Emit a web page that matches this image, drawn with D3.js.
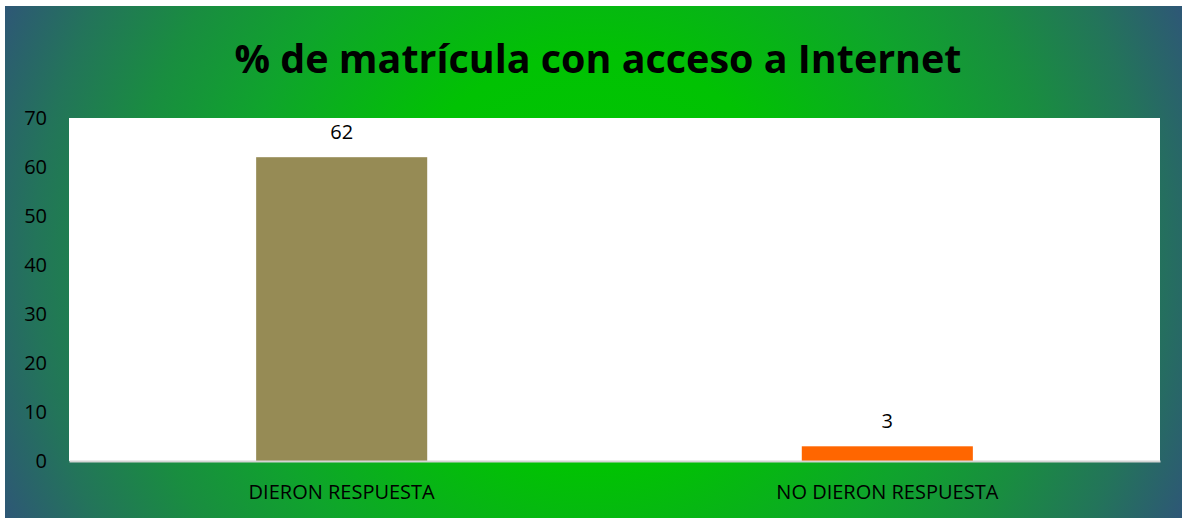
<!DOCTYPE html>
<html>
<head>
<meta charset="utf-8">
<script src="https://cdn.jsdelivr.net/npm/d3@7"></script>
<style>
    body { margin: 0; background: #ffffff; }
    svg { display: block; }
</style>
</head>
<body>
<div id="chart"></div>
<script>
var categories = ['DIERON RESPUESTA', 'NO DIERON RESPUESTA'];
var values = [62, 3];
var barColors = ['#968b55', '#ff6600'];
var yTicks = [0, 10, 20, 30, 40, 50, 60, 70];
var titleText = '% de matrícula con acceso a Internet';

var totalWidth = 1182;
var totalHeight = 518;
var margin = { top: 118, right: 22, bottom: 57, left: 69 };
var width = totalWidth - margin.left - margin.right;
var height = totalHeight - margin.top - margin.bottom;

var svg = d3.select('#chart').append('svg')
    .attr('width', totalWidth)
    .attr('height', totalHeight);

// radial green -> blue background
var grad = svg.append('defs').append('radialGradient')
    .attr('id', 'bg')
    .attr('gradientUnits', 'userSpaceOnUse')
    .attr('cx', 593).attr('cy', 262).attr('r', 650);
[[0, '#00c800'], [0.32, '#01c203'], [0.56, '#0fa42c'], [0.72, '#198d40'], [0.86, '#23745a'], [1, '#2f5479']]
    .forEach(function(s) {
        grad.append('stop').attr('offset', s[0]).attr('stop-color', s[1]);
    });

svg.append('rect')
    .attr('x', 5).attr('y', 6)
    .attr('width', totalWidth - 5).attr('height', totalHeight - 6)
    .attr('fill', 'url(#bg)');

svg.append('text')
    .attr('x', 598)
    .attr('y', 73)
    .attr('text-anchor', 'middle')
    .attr('font-family', 'Open Sans, sans-serif')
    .attr('font-weight', 'bold')
    .attr('font-size', 40)
    .attr('textLength', 727)
    .attr('lengthAdjust', 'spacingAndGlyphs')
    .attr('fill', '#000')
    .text(titleText);

var g = svg.append('g')
    .attr('transform', 'translate(' + margin.left + ',' + margin.top + ')');

// white plot area
g.append('rect')
    .attr('width', width)
    .attr('height', height)
    .attr('fill', '#ffffff');

var yScale = d3.scaleLinear().domain([0, 70]).range([height, 0]);
var xScale = d3.scaleBand().domain(categories).range([0, width])
    .paddingInner(0.6865).paddingOuter(0.343);

var yAxis = d3.axisLeft(yScale).tickValues(yTicks).tickSize(0).tickPadding(22);
var yAxisGroup = g.append('g').call(yAxis);
yAxisGroup.select('.domain').remove();
yAxisGroup.selectAll('text')
    .attr('fill', '#000')
    .attr('font-size', 20)
    .attr('font-family', 'Open Sans, sans-serif');

g.selectAll('.bar')
    .data(values)
    .enter()
    .append('rect')
    .attr('class', 'bar')
    .attr('x', (d, i) => xScale(categories[i]))
    .attr('y', d => yScale(d))
    .attr('width', xScale.bandwidth())
    .attr('height', d => height - yScale(d))
    .attr('fill', (d, i) => barColors[i]);

g.selectAll('.val')
    .data(values)
    .enter()
    .append('text')
    .attr('class', 'val')
    .attr('x', (d, i) => xScale(categories[i]) + xScale.bandwidth() / 2)
    .attr('y', d => yScale(d) - 18)
    .attr('text-anchor', 'middle')
    .attr('font-family', 'Open Sans, sans-serif')
    .attr('font-size', 20)
    .attr('fill', '#000')
    .text(d => d);

var xAxis = d3.axisBottom(xScale).tickSize(0).tickPadding(24);
var xAxisGroup = g.append('g')
    .attr('transform', 'translate(0,' + height + ')')
    .call(xAxis);
xAxisGroup.select('.domain').attr('stroke', '#d4d4d4').attr('stroke-width', 2);
xAxisGroup.selectAll('text')
    .attr('fill', '#000')
    .attr('font-size', 20)
    .attr('font-family', 'Open Sans, sans-serif');
</script>
</body>
</html>
